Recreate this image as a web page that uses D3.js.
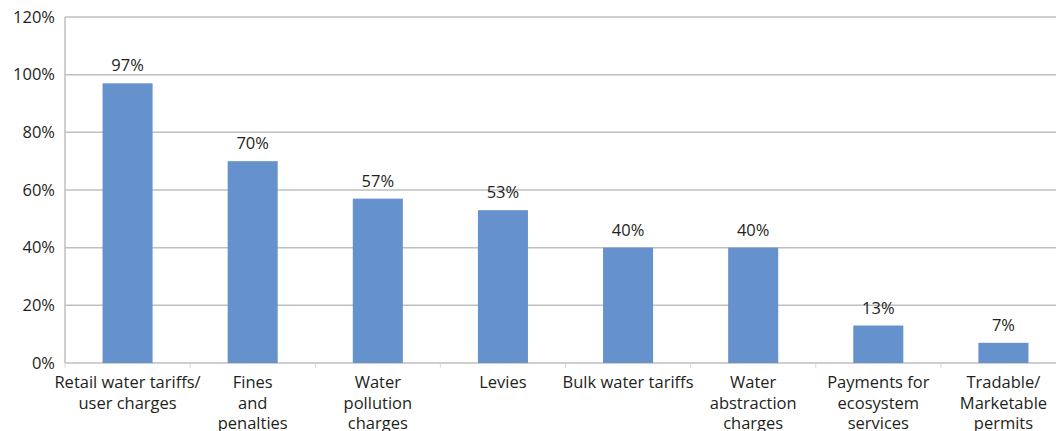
<!DOCTYPE html>
<html>
<head>
<meta charset="utf-8">
<script src="https://cdn.jsdelivr.net/npm/d3@7"></script>
<style>
  html, body { margin: 0; padding: 0; background: #fff; }
  svg { display: block; font-family: "Open Sans", "Noto Sans", sans-serif; }
</style>
</head>
<body>
<svg id="chart" width="1056" height="431"></svg>
<script>
// Share of respondents using each economic instrument
const categories = [
  ["Retail water tariffs/", "user charges"],
  ["Fines", "and", "penalties"],
  ["Water", "pollution", "charges"],
  ["Levies"],
  ["Bulk water tariffs"],
  ["Water", "abstraction", "charges"],
  ["Payments for", "ecosystem", "services"],
  ["Tradable/", "Marketable", "permits"]
];
const values = [97, 70, 57, 53, 40, 40, 13, 7];
const yTicks = [0, 20, 40, 60, 80, 100, 120];

const svg = d3.select("#chart");
const plotLeft = 65, plotRight = 1066, plotTop = 17, plotBottom = 363;
const fontSize = 16.5;

const x = d3.scaleBand()
  .domain(d3.range(categories.length))
  .range([plotLeft, plotRight])
  .paddingInner(0.6)
  .paddingOuter(0.3);

const xOuter = d3.scaleBand()
  .domain(d3.range(categories.length))
  .range([plotLeft, plotRight]);

const y = d3.scaleLinear().domain([0, 120]).range([plotBottom, plotTop]);

// horizontal gridlines
svg.append("g")
  .selectAll("line")
  .data(yTicks)
  .join("line")
  .attr("x1", plotLeft).attr("x2", plotRight)
  .attr("y1", d => y(d)).attr("y2", d => y(d))
  .attr("stroke", "#bfbfbf")
  .attr("stroke-width", 1.5);

// y axis line
svg.append("line")
  .attr("x1", plotLeft).attr("x2", plotLeft)
  .attr("y1", plotTop).attr("y2", plotBottom)
  .attr("stroke", "#bfbfbf")
  .attr("stroke-width", 1.5);

// category separator ticks under the baseline
svg.append("g")
  .selectAll("line")
  .data(d3.range(categories.length + 1))
  .join("line")
  .attr("x1", i => i < categories.length ? xOuter(i) : plotRight)
  .attr("x2", i => i < categories.length ? xOuter(i) : plotRight)
  .attr("y1", plotBottom).attr("y2", plotBottom + 5)
  .attr("stroke", "#d9d9d9")
  .attr("stroke-width", 1);

// y tick labels
svg.append("g")
  .selectAll("text")
  .data(yTicks)
  .join("text")
  .attr("x", plotLeft - 10)
  .attr("y", d => y(d))
  .attr("dy", "0.35em")
  .attr("text-anchor", "end")
  .attr("font-size", fontSize)
  .attr("fill", "#231f20")
  .text(d => d + "%");

// bars
svg.append("g")
  .selectAll("rect")
  .data(values)
  .join("rect")
  .attr("x", (d, i) => x(i))
  .attr("width", x.bandwidth())
  .attr("y", d => y(d))
  .attr("height", d => y(0) - y(d))
  .attr("fill", "#6592cc");

// value labels
svg.append("g")
  .selectAll("text")
  .data(values)
  .join("text")
  .attr("x", (d, i) => x(i) + x.bandwidth() / 2)
  .attr("y", d => y(d) - 12)
  .attr("text-anchor", "middle")
  .attr("font-size", fontSize)
  .attr("fill", "#231f20")
  .text(d => d + "%");

// category labels
const cat = svg.append("g")
  .selectAll("text")
  .data(categories)
  .join("text")
  .attr("x", (d, i) => x(i) + x.bandwidth() / 2)
  .attr("y", plotBottom + 25)
  .attr("text-anchor", "middle")
  .attr("font-size", fontSize)
  .attr("fill", "#231f20");
cat.selectAll("tspan")
  .data(d => d)
  .join("tspan")
  .attr("x", function () { return d3.select(this.parentNode).attr("x"); })
  .attr("dy", (d, i) => i === 0 ? 0 : 20.5)
  .text(d => d);
</script>
</body>
</html>
